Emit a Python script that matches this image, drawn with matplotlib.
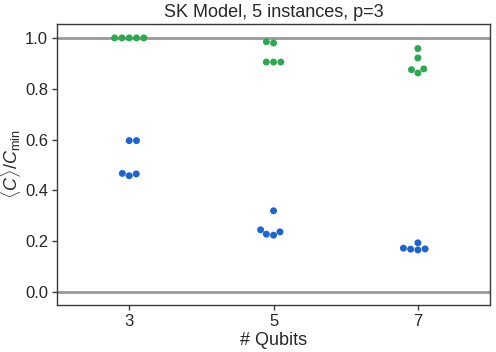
import numpy as np
import pandas as pd
import matplotlib
matplotlib.use("Agg")
import matplotlib.pyplot as plt
import seaborn as sns

qubits = [3, 5, 7]
# ratio <C>/C_min, 5 instances per size
green_vals = [
    [1.0, 1.0, 1.0, 1.0, 1.0],
    [0.985, 0.980, 0.905, 0.905, 0.905],
    [0.958, 0.921, 0.878, 0.875, 0.862],
]
blue_vals = [
    [0.596, 0.596, 0.467, 0.465, 0.458],
    [0.320, 0.245, 0.237, 0.228, 0.224],
    [0.194, 0.173, 0.170, 0.169, 0.166],
]
green = "#2ca84e"
blue = "#1c64d4"

sns.set_theme(context="notebook", style="ticks")
plt.rcParams["font.family"] = ["Liberation Sans", "DejaVu Sans"]
plt.rcParams["mathtext.fontset"] = "custom"
plt.rcParams["mathtext.rm"] = "Liberation Sans"
plt.rcParams["mathtext.it"] = "Liberation Sans:italic"
plt.rcParams["text.color"] = "#262626"

rows = []
for q, gv, bv in zip(qubits, green_vals, blue_vals):
    for v in gv:
        rows.append((str(q), v, "g"))
    for v in bv:
        rows.append((str(q), v, "b"))
df = pd.DataFrame(rows, columns=["n", "ratio", "kind"])

fig = plt.figure(figsize=(4.96, 3.52), dpi=100)
ax = fig.add_axes([0.115, 0.134, 0.873, 0.798])

ax.axhline(0, color="#999999", lw=2, zorder=0)
ax.axhline(1, color="#999999", lw=2, zorder=0)
sns.swarmplot(data=df, x="n", y="ratio", hue="kind", palette={"g": green, "b": blue},
              order=[str(q) for q in qubits], size=5, ax=ax, legend=False)

for s in ax.spines.values():
    s.set_linewidth(1.0)
    s.set_color("#3a3a3a")

ax.set_ylim(-0.05, 1.055)
ax.set_yticks([0.0, 0.2, 0.4, 0.6, 0.8, 1.0])
ax.set_xlabel("# Qubits", fontsize=13, labelpad=2)
ax.set_ylabel(r"$\langle C\rangle/C_{\min}$", fontsize=13, labelpad=1)
ax.set_title("SK Model, 5 instances, p=3", fontsize=13, pad=5)
ax.tick_params(labelsize=12, length=3.5, width=1.0, color="#3a3a3a", pad=3)

fig.savefig("out.png", dpi=100)
